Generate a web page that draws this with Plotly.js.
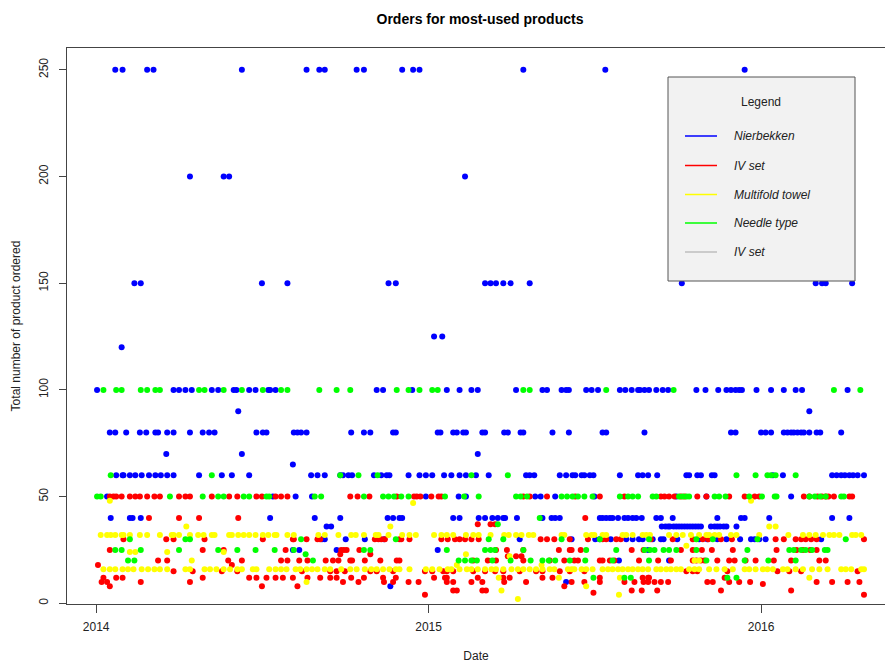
<!DOCTYPE html>
<html>
<head>
<meta charset="utf-8">
<script src="https://cdn.plot.ly/plotly-3.0.1.min.js"></script>
<style>
  html, body { margin: 0; padding: 0; background: #ffffff; }
  #chart { width: 885px; height: 663px; }
</style>
</head>
<body>
<div id="chart"></div>
<script>
// Order dates are stored as day offsets from this start date.
const START_DATE = '2014-01-01';

// Each row: [quantity ordered, [order days since START_DATE ...]]
const nierbekken = [
  [250, [21,29,56,63,160,231,245,251,286,294,336,348,355,469,559,712]],
  [200, [103,140,146,405]],
  [150, [42,49,182,210,321,329,427,433,439,447,455,476,643,790,797,801,830]],
  [125, [371,380]],
  [120, [28]],
  [100, [1,85,91,98,105,127,134,151,154,168,175,189,191,197,308,315,347,385,399,412,419,461,490,495,511,516,519,538,544,551,575,581,588,595,597,602,607,615,622,628,659,669,683,692,697,702,706,709,725,741,755,768,775,825]],
  [90,  [156,783]],
  [80,  [15,21,33,48,55,65,68,78,85,103,117,124,130,176,183,187,217,221,225,231,280,294,301,326,329,375,378,392,396,403,406,424,427,448,452,466,469,501,519,556,560,602,697,702,730,735,741,755,759,763,766,770,774,777,783,791,795,818]],
  [70,  [77,160,419]],
  [65,  [216]],
  [60,  [22,29,30,37,43,50,58,65,71,78,85,113,138,149,168,236,243,251,268,271,277,281,305,313,319,322,343,355,362,369,382,390,399,406,417,431,472,476,481,509,516,523,526,533,536,542,546,575,595,600,606,616,648,651,660,664,676,679,743,754,808,813,818,822,827,831,836,843]],
  [50,  [12,194,219,237,362,398,406,482,488,504,547,637,670,763]],
  [40,  [16,37,40,49,191,240,268,320,326,333,336,392,399,420,427,435,441,447,449,462,490,500,504,509,553,556,560,564,567,573,580,584,589,593,599,615,620,633,682,708,712,739,808,827]],
  [36,  [253,258,621,625,628,630,634,637,640,643,646,649,652,655,658,661,664,675,679,682,685,689,692,703]],
  [30,  [248,251,274,295,316,465,522,548,553,565,582,589,596,600,611,620,623,638,662,671,682,692,707,719,723,728,735,796]],
  [25,  [216,223,264,375,606]],
  [20,  [574,629]],
  [10,  [516]],
  [8,   [323]]
];

const ivSet = [
  [50, [15,19,22,28,37,43,48,56,64,70,91,98,103,127,146,155,176,182,197,203,210,279,287,300,330,349,352,356,368,376,379,469,476,495,526,553,580,620,624,629,635,642,646,660,670,695,712,723,728,777,783,792,797,801,804,810,827,830]],
  [40, [58,91,113,156,537]],
  [37, [419,433,438]],
  [30, [30,77,85,119,183,216,217,231,243,246,306,310,313,317,333,335,344,379,386,394,399,405,412,420,488,495,503,520,540,556,560,571,576,609,633,655,666,672,686,698,746,755,768,774,779,785,791,843]],
  [25, [15,117,140,208,269,272,275,289,439,451,469,508,520,522,532,588,601,642,655,665,676,699,747,769,776,784,791]],
  [23, [268,301]],
  [22, [452,461,467]],
  [20, [68,78,145,160,203,210,223,232,252,260,266,279,281,295,312,330,333,414,430,439,469,498,514,525,529,553,556,564,569,596,617,631,655,659,664,668,682,695,701,713,724,744,763,794,801]],
  [18, [2,149]],
  [15, [85,106,138,155,226,257,264,273,301,308,326,361,369,381,385,392,414,427,438,447,465,483,490,509,520,536,648,655,660,693,748,761,774,836]],
  [12, [8,22,29,117,168,176,187,197,205,216,232,246,257,264,280,294,315,329,371,383,385,419,447,454,490,501,553,600,606,607,690]],
  [10, [6,12,49,103,271,288,316,326,343,354,385,392,412,424,448,472,522,536,553,580,591,601,606,613,620,628,671,677,695,706,718,791,808,825,838]],
  [9,  [732]],
  [8,  [15,182,221,514]],
  [6,  [392,396,424,428,588,599,616,686,763]],
  [5,  [546]],
  [4,  [361,843]]
];

const multifoldTowel = [
  [48, [15,719]],
  [47, [348]],
  [36, [99,323,739,746]],
  [32, [5,12,16,21,28,30,37,48,56,70,83,85,91,103,112,118,127,130,146,149,156,162,168,175,183,189,196,198,210,217,244,251,266,280,285,294,307,310,321,336,344,351,371,379,385,392,406,414,420,433,448,453,461,467,475,480,511,514,538,544,547,556,560,578,582,589,600,604,608,629,637,644,653,662,670,673,679,684,697,703,728,760,776,783,790,798,805,810,816,830,834,840]],
  [27, [648]],
  [24, [37,43,78,140]],
  [23, [406]],
  [22, [454]],
  [20, [105,657,662]],
  [18, [396,489]],
  [16, [8,15,21,29,35,41,50,57,64,70,78,98,103,119,125,132,140,147,155,160,172,176,190,197,203,209,219,224,231,237,243,251,257,269,279,286,295,302,308,315,322,329,333,344,362,369,377,386,390,399,407,412,419,427,434,439,447,456,463,469,476,483,490,498,503,518,522,525,533,538,545,556,562,567,573,578,584,589,595,600,606,615,620,626,631,637,642,651,657,662,673,681,690,699,712,717,724,732,737,743,754,759,768,776,786,794,803,818,823,829,840,843]],
  [12, [442,508,575,783]],
  [10, [231]],
  [8,  [538]],
  [6,  [445]],
  [4,  [574]],
  [2,  [463]]
];

const needleType = [
  [100, [8,22,28,49,56,65,70,113,119,140,160,183,203,210,245,264,279,330,343,355,369,375,469,476,560,634,810,839]],
  [60,  [16,127,268,288,309,412,452,703,724,737,741,746,768]],
  [50,  [1,5,81,117,134,140,162,168,187,190,240,247,294,315,321,327,335,343,383,404,420,461,466,473,511,517,523,529,536,545,575,584,589,595,611,615,640,644,648,651,679,684,691,717,731,745,747,783,789,795,801,818,821]],
  [40,  [487]],
  [37,  [441]],
  [30,  [37,98,103,225,329,431,447,511,553,607,659,677,726,823]],
  [25,  [21,28,49,91,134,155,175,196,217,294,301,385,427,433,438,469,538,571,602,608,613,623,629,637,659,715,761,766,774,779,786,800,803]],
  [23,  [230]],
  [20,  [35,42,238,398,405,412,418,435,455,477,490,497,504,520,537,567,607,670,712,738,768]],
  [12,  [546,580,587,693,703]]
];

const seriesNames  = ['Nierbekken', 'IV set', 'Multifold towel', 'Needle type'];
const seriesColors = ['#0000ff', '#ff0000', '#ffff00', '#00ff00'];
const legendNames  = ['Nierbekken', 'IV set', 'Multifold towel', 'Needle type', 'IV set'];
const legendColors = ['#0000ff', '#ff0000', '#ffff00', '#00ff00', '#bebebe'];

const yearTickVals = ['2014-01-01', '2015-01-01', '2016-01-01'];
const yearTickText = ['2014', '2015', '2016'];
const qtyTickVals  = [0, 50, 100, 150, 200, 250];

const baseMs = Date.parse(START_DATE + 'T00:00:00Z');
function dayToDate(d) {
  return new Date(baseMs + d * 86400000).toISOString().slice(0, 10);
}
function toXY(rows) {
  const x = [], y = [];
  rows.forEach(function (row) {
    row[1].forEach(function (d) { x.push(dayToDate(d)); y.push(row[0]); });
  });
  return { x: x, y: y };
}

const allSeries = [nierbekken, ivSet, multifoldTowel, needleType];
const traces = allSeries.map(function (rows, i) {
  const xy = toXY(rows);
  return {
    type: 'scatter', mode: 'markers', name: seriesNames[i],
    x: xy.x, y: xy.y,
    marker: { color: seriesColors[i], size: 6, line: { width: 0 } },
    showlegend: false, hoverinfo: 'x+y+name'
  };
});

// Plot-area geometry (pixels) used to place the legend box in paper coordinates
const W = 885, H = 663, ML = 67, MR = 0, MT = 48, MB = 59;
const PW = W - ML - MR, PH = H - MT - MB;
const px = function (v) { return (v - ML) / PW; };
const py = function (v) { return 1 - (v - MT) / PH; };

const shapes = [{
  type: 'rect', xref: 'paper', yref: 'paper', layer: 'above',
  x0: px(668), x1: px(855), y0: py(77), y1: py(281),
  fillcolor: '#f2f2f2', line: { color: '#555555', width: 1 }
}];
const annotations = [{
  xref: 'paper', yref: 'paper', x: px(761), y: py(102), text: 'Legend',
  showarrow: false, xanchor: 'center', yanchor: 'middle',
  font: { family: 'Liberation Sans, Arial, sans-serif', size: 12, color: '#222222' }
}];
const itemY = [136, 165.5, 194.5, 223, 252];
legendNames.forEach(function (name, i) {
  shapes.push({
    type: 'line', xref: 'paper', yref: 'paper', layer: 'above',
    x0: px(685), x1: px(717), y0: py(itemY[i]), y1: py(itemY[i]),
    line: { color: legendColors[i], width: 1.5 }
  });
  annotations.push({
    xref: 'paper', yref: 'paper', x: px(732), y: py(itemY[i]),
    text: '<i>' + name + '</i>', showarrow: false,
    xanchor: 'left', yanchor: 'middle',
    font: { family: 'Liberation Sans, Arial, sans-serif', size: 12, color: '#222222' }
  });
});

const layout = {
  width: W, height: H,
  margin: { l: ML, r: MR, t: MT, b: MB, pad: 0 },
  paper_bgcolor: '#ffffff', plot_bgcolor: '#ffffff',
  font: { family: 'Liberation Sans, Arial, sans-serif', size: 12, color: '#222222' },
  title: {
    text: 'Orders for most-used products',
    font: { family: 'Liberation Sans, Arial, sans-serif', size: 14, color: '#000000', weight: 'bold' },
    xref: 'container', yref: 'container', x: 480 / W, y: 1 - 19 / H,
    xanchor: 'center', yanchor: 'middle'
  },
  xaxis: {
    type: 'date',
    range: ['2013-11-30 00:00', '2016-05-16 02:00'],
    tickmode: 'array', tickvals: yearTickVals, ticktext: yearTickText,
    ticks: 'outside', ticklen: 8, tickwidth: 1, tickcolor: '#444444',
    showline: true, mirror: true, linecolor: '#444444', linewidth: 1,
    showgrid: false, zeroline: false,
    ticklabelstandoff: 4,
    tickfont: { size: 12, color: '#222222' },
    title: { text: 'Date', standoff: 20, font: { size: 12, color: '#222222' } },
    automargin: false, fixedrange: true
  },
  yaxis: {
    range: [-0.33, 260.2],
    tickmode: 'array', tickvals: qtyTickVals,
    tickangle: -90,
    ticks: 'outside', ticklen: 7, tickwidth: 1, tickcolor: '#444444',
    showline: true, mirror: false, linecolor: '#444444', linewidth: 1,
    showgrid: false, zeroline: false,
    ticklabelstandoff: 6,
    tickfont: { size: 12, color: '#222222' },
    title: { text: 'Total number of product ordered', standoff: 14, font: { size: 12, color: '#222222' } },
    automargin: false, fixedrange: true
  },
  shapes: shapes,
  annotations: annotations,
  showlegend: false,
  hovermode: 'closest'
};

Plotly.newPlot('chart', traces, layout, { displayModeBar: false, staticPlot: false });
</script>
</body>
</html>
